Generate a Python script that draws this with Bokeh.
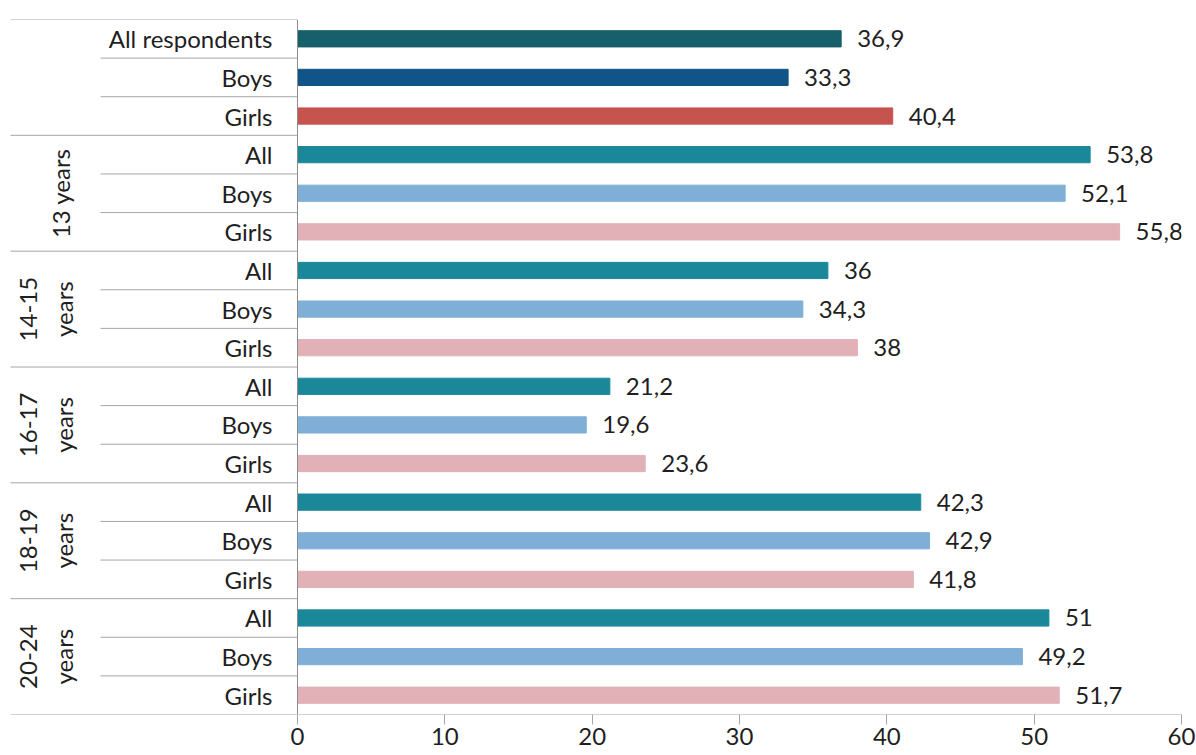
import math
from bokeh.plotting import figure
from bokeh.models import Range1d, FixedTicker, ColumnDataSource
from bokeh.core.properties import value
from bokeh.embed import file_html
from bokeh.resources import INLINE

# ---------------- data ----------------
categories = ["All respondents", "Boys", "Girls",
              "All", "Boys", "Girls",
              "All", "Boys", "Girls",
              "All", "Boys", "Girls",
              "All", "Boys", "Girls",
              "All", "Boys", "Girls"]
values = [36.9, 33.3, 40.4,
          53.8, 52.1, 55.8,
          36.0, 34.3, 38.0,
          21.2, 19.6, 23.6,
          42.3, 42.9, 41.8,
          51.0, 49.2, 51.7]
groups = ["", "13 years", "14-15\nyears", "16-17\nyears", "18-19\nyears", "20-24\nyears"]
bar_colors = ["#165f6b", "#115588", "#c5544f"] + ["#1b889a", "#7fafd7", "#e2b0b7"] * 5
x_ticks = [0, 10, 20, 30, 40, 50, 60]

# ---------------- layout helpers (pixels -> data) ----------------
FONT = "Lato"
TXT = "#1f1f1f"
PX0, PX60 = 297, 1181          # page x of value 0 and 60
PAGE_LEFT = 0
scale = (PX60 - PX0) / 60.0


def px2x(px):
    return (px - PX0) / scale


n = len(categories)
ys = list(range(n))
labels = [("%g" % v).replace(".", ",") for v in values]

src = ColumnDataSource(dict(y=ys, v=values, c=bar_colors, cat=categories, lab=labels))

p = figure(width=1196, height=755, output_backend="svg", toolbar_location=None,
           x_range=Range1d(px2x(PAGE_LEFT), 60), y_range=Range1d(n - 0.5, -0.5),
           y_axis_location=None, min_border_left=0, min_border_right=15,
           min_border_top=19, min_border_bottom=41)
p.outline_line_color = None
p.xgrid.visible = False
p.ygrid.visible = False
p.background_fill_color = "white"
p.border_fill_color = "white"

# bars
p.hbar(y="y", right="v", left=0, height=0.42, color="c", source=src)

# value labels
p.text(x="v", y="y", text="lab", source=src, x_offset=16,
       text_align="left", text_baseline="middle",
       text_font=value(FONT), text_font_size="24px", text_color=TXT)

# category labels
p.text(x=px2x(272), y="y", text="cat", source=src,
       text_align="right", text_baseline="middle",
       text_font=value(FONT), text_font_size="24px", text_color=TXT)

# separator lines
sep_color = "#a6a6a6"
y_short, y_long = [], []
for i in range(n + 1):
    yb = i - 0.5
    if i % 3 == 0:
        y_long.append(yb)
    else:
        y_short.append(yb)
p.segment(x0=[px2x(100)] * len(y_short), x1=[0] * len(y_short), y0=y_short, y1=y_short,
          line_color=sep_color, line_width=1)
p.segment(x0=[px2x(10)] * len(y_long), x1=[0] * len(y_long), y0=y_long, y1=y_long,
          line_color=sep_color, line_width=1)

# vertical axis line and bottom axis line
p.segment(x0=[0], x1=[0], y0=[-0.5], y1=[n - 0.5], line_color="#8c8c8c", line_width=1)
p.segment(x0=[0], x1=[60], y0=[n - 0.5], y1=[n - 0.5], line_color="#a6a6a6", line_width=1)

# group labels (rotated)
for gi, g in enumerate(groups):
    if not g:
        continue
    yc = gi * 3 + 1
    parts = g.split("\n")
    if len(parts) == 1:
        xs = [px2x(60)]
    else:
        xs = [px2x(28), px2x(63)]
    for xx, t in zip(xs, parts):
        p.text(x=[xx], y=[yc], text=[t], angle=math.pi / 2,
               text_align="center", text_baseline="middle",
               text_font=value(FONT), text_font_size="24px", text_color=TXT)

# x axis
ax = p.xaxis[0]
ax.ticker = FixedTicker(ticks=x_ticks)
ax.axis_line_color = None
ax.major_tick_in = 0
ax.major_tick_out = 10
ax.major_tick_line_color = "#a6a6a6"
ax.minor_tick_line_color = None
ax.major_label_standoff = 3
ax.major_label_text_font = FONT
ax.major_label_text_font_size = "24px"
ax.major_label_text_color = TXT

open("out.html", "w").write(file_html(p, INLINE))
